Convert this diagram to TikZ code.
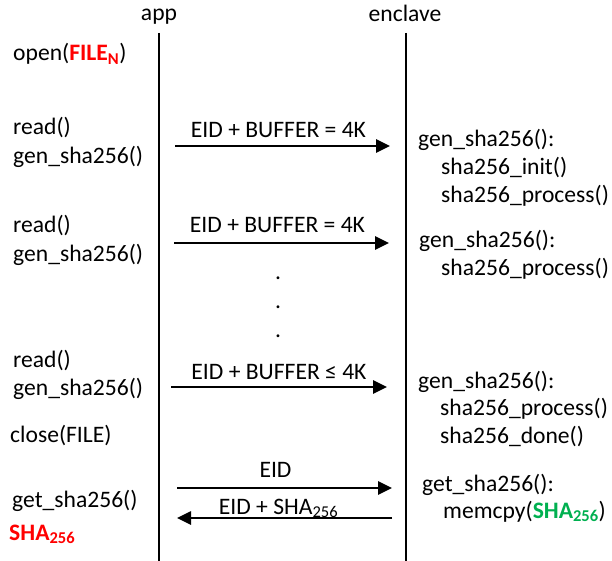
\documentclass[tikz,border=0pt]{standalone}
\usepackage{fontspec}
\setmainfont{Carlito}
\usetikzlibrary{arrows.meta,positioning}
\definecolor{fred}{RGB}{255,0,0}
\definecolor{fgreen}{RGB}{0,176,80}

\begin{document}
\begin{tikzpicture}[x=1pt,y=-1pt,font=\fontsize{23.6}{28}\selectfont,
				txt/.style={anchor=base west,inner sep=0pt},
				head/.style={anchor=base,inner sep=0pt},
				life/.style={line width=2.9pt},
				msg/.style={line width=2.6pt,-{Triangle[length=14pt,width=13pt]}},
				lbl/.style={anchor=base,inner sep=0pt,yshift=8pt}]
				\useasboundingbox (0,0) rectangle (612,561);
				% lifelines
				\node[head] (app) at (159,21) {app};
				\node[head] (encl) at (405,22) {enclave};
				\coordinate (appT) at (159,33);
				\coordinate (appB) at (159,561);
				\coordinate (enclT) at (406,33);
				\coordinate (enclB) at (406,561);
				\draw[life] (appT) -- (appB);
				\draw[life] (enclT) -- (enclB);
				% app side
				\node[txt] (open) at (13,61) {open(\textcolor{fred}{\textbf{FILE\textsubscript{N}}})};
				\node[txt] (rd1) at (13,135) {read()};
				\node[below=29pt of rd1.base west,txt] (gs1) {gen\_sha256()};
				\node[txt] (rd2) at (13,232) {read()};
				\node[below=29pt of rd2.base west,txt] (gs2) {gen\_sha256()};
				\node[txt] (rd3) at (13,367) {read()};
				\node[below=28pt of rd3.base west,txt] (gs3) {gen\_sha256()};
				\node[txt] (cls) at (10,442) {close(FILE)};
				\node[txt] (get) at (12,507) {get\_sha256()};
				\node[txt] (res) at (9,540) {\textcolor{fred}{\textbf{SHA\textsubscript{256}}}};
				% enclave side
				\node[txt] (g1) at (418,147) {gen\_sha256():};
				\node[below right=28pt and 23pt of g1.base west,txt] (i1) {sha256\_init()};
				\node[below=28pt of i1.base west,txt] (p1) {sha256\_process()};
				\node[txt] (g2) at (419,247) {gen\_sha256():};
				\node[below right=28pt and 22pt of g2.base west,txt] (p2) {sha256\_process()};
				\node[txt] (g3) at (418,388) {gen\_sha256():};
				\node[below right=27pt and 22pt of g3.base west,txt] (p3) {sha256\_process()};
				\node[below=28pt of p3.base west,txt] (d3) {sha256\_done()};
				\node[txt] (gt) at (422,491) {get\_sha256():};
				\node[below right=27pt and 21pt of gt.base west,txt] (mc) {memcpy(\textcolor{fgreen}{\textbf{SHA\textsubscript{256}}})};
				% dots
				\foreach \y/\n in {279/1,308/2,337/3}
					\node[head] (dot\n) at (278,\y) {.};
				% messages
				\coordinate (a1) at (175,146);
				\coordinate (e1) at (390,146);
				\coordinate (a2) at (174,243);
				\coordinate (e2) at (389,243);
				\coordinate (a3) at (171,387);
				\coordinate (e3) at (387,387);
				\coordinate (a4) at (177,488);
				\coordinate (e4) at (392,488);
				\coordinate (a5) at (177,518);
				\coordinate (e5) at (392,518);
				\path[msg]
				(a1) edge node[lbl,xshift=-4pt] {EID + BUFFER = 4K} (e1)
				(a2) edge node[lbl,xshift=-4pt,yshift=2pt] {EID + BUFFER = 4K} (e2)
				(a3) edge node[lbl] {EID + BUFFER ≤ 4K} (e3)
				(a4) edge node[lbl,xshift=-9pt,yshift=3pt] {EID} (e4)
				(e5) edge node[lbl,xshift=-6pt,yshift=-4pt] {EID + SHA\textsubscript{256}} (a5);
			\end{tikzpicture}
\end{document}
